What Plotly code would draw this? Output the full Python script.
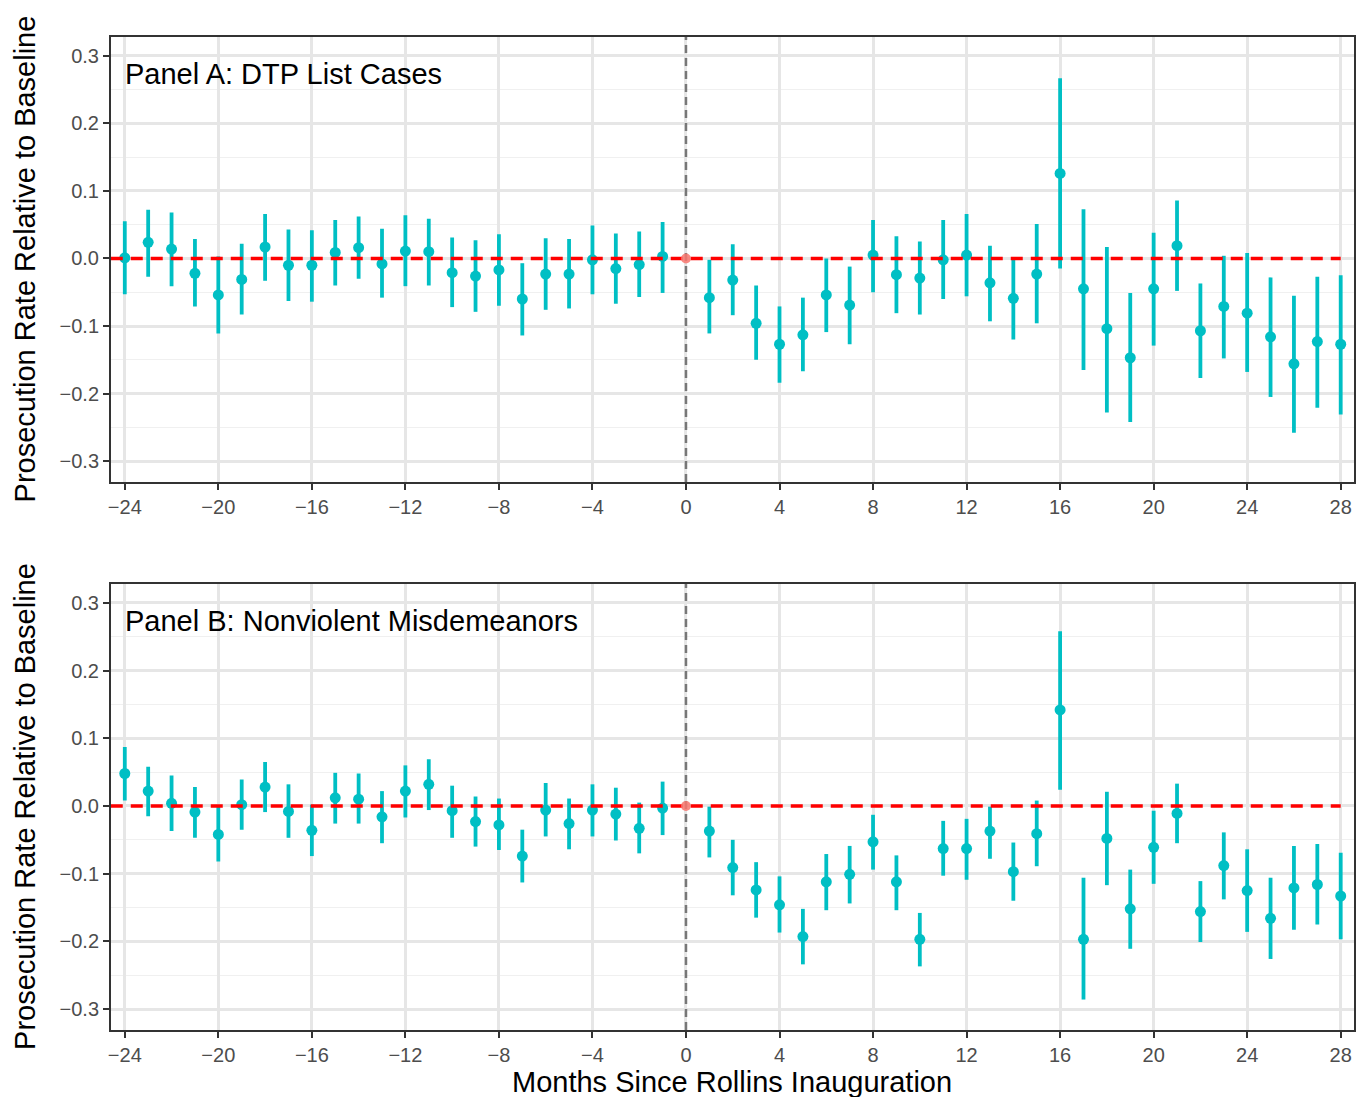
import plotly.graph_objects as go

# ---------------- data ----------------
months_pre = list(range(-24, 0))
months_post = list(range(1, 29))
months = months_pre + months_post

# Panel A: DTP List Cases
a_est = [0.001, 0.024, 0.014, -0.022, -0.054, -0.031, 0.017, -0.010, -0.010, 0.009, 0.016, -0.008,
         0.011, 0.010, -0.021, -0.026, -0.017, -0.060, -0.023, -0.023, -0.002, -0.015, -0.009, 0.003,
         -0.058, -0.032, -0.096, -0.127, -0.113, -0.054, -0.069, 0.005, -0.024, -0.029, -0.002, 0.005,
         -0.036, -0.059, -0.023, 0.126, -0.045, -0.104, -0.147, -0.045, 0.019, -0.107, -0.071, -0.081,
         -0.116, -0.156, -0.123, -0.127]
a_hi = [0.055, 0.072, 0.068, 0.029, 0.003, 0.022, 0.066, 0.043, 0.042, 0.057, 0.062, 0.044,
        0.064, 0.059, 0.031, 0.027, 0.036, -0.007, 0.030, 0.029, 0.049, 0.037, 0.040, 0.054,
        -0.002, 0.021, -0.040, -0.071, -0.058, 0.000, -0.012, 0.057, 0.033, 0.025, 0.057, 0.066,
        0.019, -0.002, 0.051, 0.267, 0.073, 0.017, -0.051, 0.038, 0.086, -0.037, 0.004, 0.008,
        -0.028, -0.055, -0.027, -0.025]
a_lo = [-0.053, -0.027, -0.041, -0.071, -0.111, -0.083, -0.033, -0.063, -0.064, -0.040, -0.030, -0.058,
        -0.041, -0.040, -0.072, -0.079, -0.070, -0.114, -0.076, -0.074, -0.053, -0.067, -0.057, -0.051,
        -0.111, -0.084, -0.150, -0.184, -0.167, -0.109, -0.127, -0.050, -0.081, -0.083, -0.060, -0.056,
        -0.093, -0.120, -0.096, -0.015, -0.165, -0.228, -0.242, -0.129, -0.048, -0.177, -0.148, -0.168,
        -0.205, -0.258, -0.221, -0.231]

# Panel B: Nonviolent Misdemeanors
b_est = [0.048, 0.022, 0.004, -0.009, -0.042, 0.002, 0.028, -0.008, -0.036, 0.012, 0.010, -0.016,
         0.022, 0.032, -0.007, -0.023, -0.028, -0.074, -0.006, -0.026, -0.006, -0.012, -0.033, -0.003,
         -0.037, -0.091, -0.124, -0.146, -0.193, -0.112, -0.101, -0.053, -0.112, -0.197, -0.063, -0.063,
         -0.037, -0.097, -0.041, 0.142, -0.197, -0.048, -0.152, -0.061, -0.011, -0.156, -0.088, -0.125,
         -0.166, -0.121, -0.116, -0.133]
b_hi = [0.087, 0.058, 0.045, 0.028, -0.001, 0.039, 0.065, 0.032, 0.002, 0.049, 0.048, 0.022,
        0.060, 0.069, 0.030, 0.014, 0.011, -0.035, 0.034, 0.011, 0.032, 0.027, 0.005, 0.036,
        -0.001, -0.050, -0.083, -0.104, -0.152, -0.071, -0.059, -0.013, -0.073, -0.158, -0.022, -0.019,
        -0.001, -0.054, 0.008, 0.258, -0.106, 0.021, -0.094, -0.007, 0.033, -0.111, -0.039, -0.064,
        -0.106, -0.059, -0.056, -0.069]
b_lo = [0.008, -0.015, -0.037, -0.047, -0.082, -0.035, -0.009, -0.047, -0.074, -0.026, -0.026, -0.055,
        -0.017, -0.006, -0.047, -0.060, -0.065, -0.113, -0.045, -0.064, -0.045, -0.051, -0.070, -0.043,
        -0.076, -0.132, -0.165, -0.187, -0.234, -0.154, -0.144, -0.094, -0.154, -0.237, -0.103, -0.109,
        -0.078, -0.140, -0.089, 0.024, -0.286, -0.117, -0.211, -0.115, -0.055, -0.201, -0.138, -0.186,
        -0.226, -0.183, -0.175, -0.197]

ref_month = [0]
ref_value = [0.0]

panel_titles = ["Panel A: DTP List Cases", "Panel B: Nonviolent Misdemeanors"]
x_title = "Months Since Rollins Inauguration"
y_title = "Prosecution Rate Relative to Baseline"
x_ticks = list(range(-24, 29, 4))
y_ticks = [-0.3, -0.2, -0.1, 0.0, 0.1, 0.2, 0.3]
y_ticklabels = ["\u22120.3", "\u22120.2", "\u22120.1", "0.0", "0.1", "0.2", "0.3"]
x_ticklabels = [("\u2212" + str(-v)) if v < 0 else str(v) for v in x_ticks]

# ---------------- layout geometry ----------------
W, H = 1368, 1097
TEAL = "#00BFC4"
SALMON = "#F8766D"
FONT = "Liberation Sans, Arial"
x_range = [-24.6, 28.57]
y_range = [-0.331, 0.328]

panels = [
    dict(est=a_est, hi=a_hi, lo=a_lo, top=37, bottom=482, title=panel_titles[0]),
    dict(est=b_est, hi=b_hi, lo=b_lo, top=584, bottom=1030, title=panel_titles[1]),
]
left_px, right_px = 108, 1354

fig = go.Figure()
annotations = []
for i, p in enumerate(panels):
    xa = "x" if i == 0 else "x2"
    ya = "y" if i == 0 else "y2"
    plus = [h - e for h, e in zip(p["hi"], p["est"])]
    minus = [e - l for e, l in zip(p["est"], p["lo"])]
    # grey dashed inauguration line (beneath the points)
    fig.add_trace(go.Scatter(
        x=[ref_month[0], ref_month[0]], y=y_range, mode="lines", xaxis=xa, yaxis=ya,
        line=dict(color="#777777", width=2.5, dash="8px,5px"), hoverinfo="skip",
        showlegend=False, cliponaxis=False))
    fig.add_trace(go.Scatter(
        x=months, y=p["est"], mode="markers", xaxis=xa, yaxis=ya,
        marker=dict(color=TEAL, size=11),
        error_y=dict(type="data", array=plus, arrayminus=minus, visible=True,
                     color=TEAL, thickness=3.8, width=0),
        showlegend=False))
    # zero reference (red dashed)
    fig.add_trace(go.Scatter(
        x=[x_range[0], months[-1]], y=[ref_value[0], ref_value[0]], mode="lines",
        xaxis=xa, yaxis=ya, line=dict(color="red", width=3.5, dash="12px,8px"),
        hoverinfo="skip", showlegend=False))
    fig.add_trace(go.Scatter(
        x=ref_month, y=ref_value, mode="markers", xaxis=xa, yaxis=ya,
        marker=dict(color=SALMON, size=10, opacity=0.85),
        showlegend=False))
    dom_y = [1 - p["bottom"] / H, 1 - p["top"] / H]
    axis_common = dict(showline=True, linecolor="#333333", linewidth=1.5, mirror=True,
                       ticks="outside", ticklen=6, tickwidth=2, tickcolor="#333333",
                       tickfont=dict(family=FONT, size=20, color="#4D4D4D"),
                       showgrid=True, gridcolor="#E6E6E6", gridwidth=2.5, zeroline=False)
    xkey = "xaxis" if i == 0 else "xaxis2"
    ykey = "yaxis" if i == 0 else "yaxis2"
    fig.update_layout(**{
        xkey: dict(axis_common, domain=[left_px / W, right_px / W], range=x_range,
                   tickvals=x_ticks, ticktext=x_ticklabels, anchor=ya),
        ykey: dict(axis_common, domain=dom_y, range=y_range, tickvals=y_ticks,
                   ticktext=y_ticklabels, anchor=xa,
                   minor=dict(tickvals=[-0.25, -0.15, -0.05, 0.05, 0.15, 0.25],
                              showgrid=True, gridcolor="#F0F0F0", gridwidth=1.2, ticks="")),
    })
    annotations.append(dict(text=p["title"], xref="paper", yref="paper",
                            x=120 / W, y=1 - (p["top"] + 37) / H, xanchor="left", yanchor="middle",
                            showarrow=False,
                            font=dict(family=FONT, size=29, color="black")))
    annotations.append(dict(text=y_title, xref="paper", yref="paper", textangle=-90,
                            x=22 / W, y=1 - ((p["top"] + p["bottom"]) / 2 - 1) / H,
                            xanchor="center", yanchor="middle", showarrow=False,
                            font=dict(family=FONT, size=29, color="black")))

annotations.append(dict(text=x_title, xref="paper", yref="paper",
                        x=731 / W, y=1 - 1082 / H, xanchor="center", yanchor="middle",
                        showarrow=False,
                        font=dict(family=FONT, size=29, color="black")))

fig.update_layout(width=W, height=H, margin=dict(l=0, r=0, t=0, b=0),
                  plot_bgcolor="white", paper_bgcolor="white",
                  annotations=annotations)

fig.write_html("out.html")
